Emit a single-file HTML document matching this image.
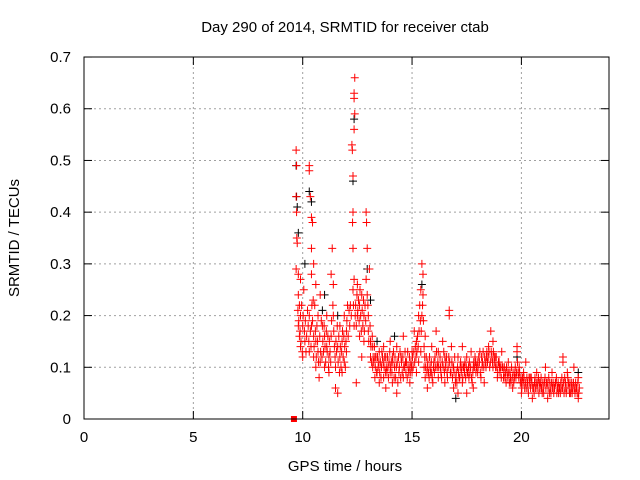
<!DOCTYPE html>
<html><head><meta charset="utf-8"><style>
body{margin:0;background:#fff}
svg{display:block;font-family:"Liberation Sans",sans-serif}
</style></head><body>
<svg id="chart" width="640" height="480" viewBox="0 0 640 480">
<rect width="640" height="480" fill="#fff"/>
<text x="345" y="32" text-anchor="middle" font-size="15">Day 290 of 2014, SRMTID for receiver ctab</text>
<text x="345" y="471" text-anchor="middle" font-size="15">GPS time / hours</text>
<text transform="translate(19,238) rotate(-90)" text-anchor="middle" font-size="15">SRMTID / TECUs</text>
<g id="grid"></g>
<g id="ticks"></g>
<g id="black"></g>
<g id="red"></g>
<rect x="84" y="57" width="525" height="362" fill="none" stroke="#000" stroke-width="1"/>
</svg>
<script>
const xTicks=[0,5,10,15,20];
const yTicks=[0,0.1,0.2,0.3,0.4,0.5,0.6,0.7];
const yTickLabels=["0","0.1","0.2","0.3","0.4","0.5","0.6","0.7"];
const squarePoints=[[9.6,0]];
const blackPoints=[[9.7,0.49],[9.72,0.43],[9.75,0.41],[9.8,0.36],[10.3,0.44],[10.4,0.42],[12.3,0.46],[12.35,0.58],[12.95,0.29],[13.1,0.23],[10.9,0.21],[11.6,0.2],[15.45,0.26],[19.8,0.12],[22.6,0.09],[14.2,0.16],[17.0,0.04],[10.1,0.3],[11.0,0.24],[13.4,0.15]];
const redPoints=[[9.7,0.52],[9.72,0.49],[9.7,0.43],[9.72,0.40],[9.73,0.35],[9.75,0.34],[9.7,0.29],[9.8,0.28],[9.8,0.24],[9.85,0.22],[9.9,0.2],[9.8,0.18],[9.85,0.16],[9.9,0.14],[9.95,0.22],[10.0,0.18],[10.0,0.12],[9.9,0.27],[10.1,0.15],[10.05,0.25],
[10.3,0.49],[10.3,0.48],[10.35,0.43],[10.4,0.39],[10.45,0.38],[10.4,0.33],[10.5,0.3],[10.4,0.28],[10.6,0.26],[10.55,0.22],[10.3,0.2],[10.4,0.18],[10.5,0.16],[10.6,0.15],[10.3,0.13],[10.5,0.12],[10.6,0.1],[10.7,0.13],[10.75,0.08],[10.8,0.11],[10.7,0.2],[10.8,0.24],[10.9,0.18],[11.0,0.16],[11.0,0.1],[11.1,0.14],[11.1,0.2],[11.2,0.12],[11.2,0.09],[11.3,0.16],[11.3,0.28],[11.35,0.33],[11.4,0.26],[11.4,0.2],[11.45,0.14],[11.5,0.1],[11.5,0.06],[11.6,0.14],[11.6,0.05],[11.7,0.12],[11.7,0.18],[11.8,0.09],[11.8,0.15],[11.9,0.11],[11.9,0.2],[12.0,0.13],[12.0,0.17],[12.05,0.22],
[12.25,0.53],[12.27,0.52],[12.3,0.47],[12.3,0.4],[12.28,0.38],[12.3,0.33],[12.35,0.56],[12.38,0.59],[12.35,0.62],[12.35,0.63],[12.38,0.66],[12.35,0.27],[12.3,0.25],[12.32,0.22],[12.4,0.2],[12.35,0.18],[12.45,0.07],[12.5,0.26],[12.5,0.2],[12.6,0.22],[12.6,0.16],[12.7,0.24],[12.7,0.12],[12.8,0.15],[12.8,0.2],[12.9,0.4],[12.92,0.38],[12.95,0.33],[12.9,0.27],[12.95,0.24],[13.0,0.2],[13.0,0.17],[13.05,0.29],[13.1,0.15],[13.1,0.12],[13.2,0.1],[13.2,0.14],[13.3,0.08],[13.3,0.12],[13.4,0.09],[13.5,0.07],[13.5,0.13],[13.6,0.1],[13.7,0.14],[13.7,0.08],[13.8,0.12],[13.8,0.06],[13.9,0.1],[14.0,0.15],[14.0,0.09],[14.1,0.12],[14.1,0.07],[14.2,0.1],[14.3,0.14],[14.3,0.05],[14.4,0.09],[14.5,0.12],[14.6,0.16],[14.6,0.08],[14.7,0.11],[14.8,0.13],[14.9,0.07],[14.9,0.1],[15.0,0.13],[15.0,0.09],
[15.1,0.17],[15.2,0.15],[15.3,0.2],[15.35,0.22],[15.4,0.25],[15.45,0.3],[15.5,0.28],[15.5,0.24],[15.45,0.2],[15.4,0.13],[15.3,0.11],[15.2,0.09],[15.6,0.16],[15.6,0.08],[15.7,0.1],[15.7,0.06],[15.8,0.12],[15.9,0.14],[15.9,0.09],[16.0,0.11],[16.1,0.17],[16.2,0.13],[16.2,0.08],[16.3,0.1],[16.4,0.15],[16.5,0.12],[16.5,0.07],[16.6,0.09],[16.7,0.21],[16.7,0.2],[16.8,0.14],[16.9,0.06],[16.9,0.1],[17.0,0.08],[17.1,0.12],[17.1,0.05],[17.2,0.1],[17.3,0.14],[17.3,0.07],[17.4,0.09],[17.5,0.12],[17.5,0.05],[17.6,0.08],[17.7,0.13],[17.8,0.1],[17.8,0.06],[17.9,0.11],[18.0,0.09],[18.1,0.13],[18.2,0.1],[18.3,0.07],[18.4,0.12],[18.5,0.14],[18.6,0.17],[18.7,0.15],[18.7,0.1],[18.8,0.12],[18.9,0.08],[19.0,0.1],[19.1,0.13],[19.2,0.09],[19.3,0.07],[19.4,0.11],[19.5,0.08],[19.6,0.06],[19.7,0.09],[19.8,0.14],[19.8,0.13],[19.9,0.1],[20.0,0.07],[20.0,0.05],[20.1,0.09],[20.2,0.11],[20.3,0.06],[20.4,0.08],[20.5,0.04],[20.6,0.07],[20.7,0.09],[20.8,0.05],[20.9,0.08],[21.0,0.06],[21.1,0.1],[21.2,0.04],[21.3,0.07],[21.4,0.09],[21.5,0.06],[21.6,0.08],[21.7,0.05],[21.8,0.07],[21.9,0.11],[21.9,0.12],[22.0,0.06],[22.1,0.09],[22.2,0.05],[22.3,0.07],[22.4,0.1],[22.5,0.06],[22.6,0.04],[22.6,0.08],
[13.25,0.11],[13.45,0.1],[13.65,0.12],[13.85,0.09],[14.05,0.11],[14.25,0.08],[14.45,0.13],[14.65,0.1],[14.85,0.09],[15.55,0.1],[15.75,0.09],[15.95,0.07],[16.15,0.1],[16.35,0.08],[16.55,0.11],[16.75,0.09],[16.95,0.12],[17.15,0.08],[17.35,0.1],[17.55,0.09],[17.75,0.07],[17.95,0.1],[18.15,0.08],[18.35,0.11],[18.55,0.1],[18.75,0.12],[18.95,0.11],[19.15,0.1],[19.35,0.09],[19.55,0.1],[19.75,0.08],[19.95,0.07],[20.15,0.06],[20.35,0.08],[20.55,0.06],[20.75,0.07],[20.95,0.05],[21.15,0.07],[21.35,0.05],[21.55,0.07],[21.75,0.06],[21.95,0.05],[22.15,0.07],[22.35,0.06],[22.55,0.05],
[9.78,0.21],[9.82,0.19],[9.88,0.17],[9.92,0.15],[9.98,0.13],[10.02,0.2],[10.08,0.17],[10.12,0.19],[10.15,0.13],[10.18,0.16],[10.22,0.21],[10.25,0.18],[10.28,0.15],[10.35,0.17],[10.38,0.14],[10.42,0.22],[10.45,0.19],[10.48,0.23],[10.52,0.14],[10.58,0.17],[10.62,0.12],[10.65,0.18],[10.68,0.15],[10.72,0.11],[10.78,0.16],[10.82,0.13],[10.85,0.19],[10.88,0.12],[10.92,0.15],[10.95,0.13],[10.98,0.18],[11.02,0.14],[11.05,0.11],[11.08,0.17],[11.12,0.13],[11.15,0.16],[11.18,0.1],[11.22,0.15],[11.25,0.13],[11.28,0.11],[11.32,0.19],[11.38,0.22],[11.42,0.17],[11.48,0.12],[11.52,0.15],[11.55,0.13],[11.58,0.18],[11.62,0.11],[11.65,0.16],[11.68,0.09],[11.72,0.14],[11.75,0.1],[11.78,0.13],[11.82,0.17],[11.85,0.12],[11.88,0.16],[11.92,0.14],[11.95,0.1],[11.98,0.15],[12.02,0.19],[12.08,0.16],[12.12,0.21],[12.15,0.18],[12.18,0.22],[12.22,0.2],[12.42,0.22],[12.45,0.18],[12.48,0.24],[12.52,0.21],[12.55,0.23],[12.58,0.19],[12.62,0.25],[12.65,0.2],[12.68,0.17],[12.72,0.21],[12.75,0.18],[12.78,0.23],[12.82,0.17],[12.85,0.22],[12.88,0.19],[12.98,0.22],[13.02,0.15],[13.08,0.18],[13.12,0.14],[13.15,0.11],[13.18,0.16],[13.22,0.12],[13.28,0.14],[13.32,0.1],[13.35,0.12],[13.38,0.09],[13.42,0.12],[13.48,0.11],[13.52,0.09],[13.55,0.11],[13.58,0.08],[13.62,0.13],[13.68,0.11],[13.72,0.1],[13.75,0.12],[13.78,0.09],[13.82,0.1],[13.88,0.12],[13.92,0.08],[13.95,0.11],[13.98,0.13],[14.02,0.1],[14.08,0.09],[14.12,0.11],[14.15,0.13],[14.18,0.08],[14.22,0.12],[14.28,0.1],[14.32,0.11],[14.35,0.07],[14.38,0.12],[14.42,0.1],[14.48,0.08],[14.52,0.11],[14.55,0.09],[14.58,0.12],[14.62,0.1],[14.68,0.13],[14.72,0.09],[14.75,0.11],[14.78,0.08],[14.82,0.1],[14.88,0.12],[14.92,0.09],[14.95,0.11],[14.98,0.1],[15.02,0.12],[15.05,0.1],[15.08,0.13],[15.12,0.11],[15.15,0.14],[15.18,0.12],[15.22,0.13],[15.25,0.16],[15.28,0.14],[15.32,0.17],[15.38,0.19],[15.42,0.17],[15.48,0.22],[15.52,0.19],[15.55,0.14],[15.58,0.12],[15.62,0.1],[15.65,0.12],[15.68,0.09],[15.72,0.11],[15.78,0.08],[15.82,0.1],[15.85,0.09],[15.88,0.11],[15.92,0.08],[15.98,0.1],[16.02,0.09],[16.05,0.12],[16.08,0.1],[16.12,0.13],[16.18,0.11],[16.22,0.1],[16.28,0.12],[16.32,0.09],[16.38,0.11],[16.42,0.1],[16.45,0.13],[16.48,0.09],[16.52,0.1],[16.58,0.12],[16.62,0.08],[16.65,0.1],[16.68,0.12],[16.72,0.11],[16.78,0.09],[16.82,0.11],[16.85,0.08],[16.88,0.1],[16.92,0.09],[16.98,0.07],[17.02,0.09],[17.05,0.07],[17.08,0.1],[17.12,0.09],[17.18,0.08],[17.22,0.11],[17.25,0.09],[17.28,0.1],[17.32,0.08],[17.38,0.1],[17.42,0.11],[17.45,0.08],[17.48,0.1],[17.52,0.09],[17.58,0.1],[17.62,0.11],[17.65,0.09],[17.68,0.1],[17.72,0.08],[17.78,0.09],[17.82,0.11],[17.85,0.1],[17.88,0.12],[17.92,0.09],[17.98,0.11],[18.02,0.1],[18.05,0.12],[18.08,0.11],[18.12,0.09],[18.18,0.12],[18.22,0.11],[18.25,0.13],[18.28,0.1],[18.32,0.12],[18.38,0.1],[18.42,0.13],[18.45,0.11],[18.48,0.12],[18.52,0.13],[18.58,0.11],[18.62,0.13],[18.65,0.12],[18.68,0.11],[18.72,0.13],[18.78,0.11],[18.82,0.1],[18.85,0.12],[18.88,0.1],[18.92,0.09],[18.98,0.11],[19.02,0.09],[19.05,0.1],[19.08,0.08],[19.12,0.1],[19.18,0.08],[19.22,0.1],[19.25,0.08],[19.28,0.09],[19.32,0.1],[19.38,0.08],[19.42,0.09],[19.45,0.07],[19.48,0.09],[19.52,0.07],[19.58,0.08],[19.62,0.09],[19.65,0.07],[19.68,0.08],[19.72,0.1],[19.78,0.09],[19.82,0.11],[19.85,0.09],[19.88,0.08],[19.92,0.09],[19.98,0.08],[20.02,0.06],[20.05,0.08],[20.08,0.07],[20.12,0.08],[20.18,0.07],[20.22,0.06],[20.25,0.08],[20.28,0.07],[20.32,0.05],[20.38,0.07],[20.42,0.06],[20.45,0.08],[20.48,0.07],[20.52,0.06],[20.58,0.05],[20.62,0.08],[20.65,0.06],[20.68,0.07],[20.72,0.06],[20.78,0.08],[20.82,0.07],[20.85,0.06],[20.88,0.07],[20.92,0.06],[20.98,0.07],[21.02,0.05],[21.05,0.07],[21.08,0.08],[21.12,0.06],[21.18,0.07],[21.22,0.06],[21.25,0.08],[21.28,0.05],[21.32,0.06],[21.38,0.07],[21.42,0.06],[21.45,0.07],[21.48,0.05],[21.52,0.06],[21.58,0.07],[21.62,0.05],[21.65,0.06],[21.68,0.07],[21.72,0.06],[21.78,0.05],[21.82,0.06],[21.85,0.08],[21.88,0.06],[21.92,0.07],[21.98,0.08],[22.02,0.07],[22.05,0.05],[22.08,0.06],[22.12,0.08],[22.18,0.06],[22.22,0.07],[22.25,0.05],[22.28,0.06],[22.32,0.05],[22.38,0.07],[22.42,0.06],[22.45,0.05],[22.48,0.07],[22.52,0.06],[22.58,0.07],[22.62,0.05],[22.65,0.06]];

const X0=84,PXH=21.87,Y0=419,PXY=517.1;
function sx(v){return X0+v*PXH;}
function sy(v){return Y0-v*PXY;}
const NS="http://www.w3.org/2000/svg";
function mk(tag,attrs,parent){const e=document.createElementNS(NS,tag);for(const k in attrs)e.setAttribute(k,attrs[k]);parent.appendChild(e);return e;}
const grid=document.getElementById('grid'),ticks=document.getElementById('ticks');
xTicks.forEach((t,i)=>{
  const x=sx(t);
  if(t>0){const g=mk('line',{x1:x,y1:57,x2:x,y2:419,stroke:'#a0a0a0','stroke-dasharray':'2,3'},grid);
  
  }
  mk('line',{x1:x,y1:419,x2:x,y2:411,stroke:'#000'},ticks);
  mk('line',{x1:x,y1:57,x2:x,y2:65,stroke:'#000'},ticks);
  const l=mk('text',{x:x,y:442,'text-anchor':'middle','font-size':'15'},ticks);
  l.textContent=String(t);
  
  
});
yTicks.forEach((t,i)=>{
  const y=sy(t);
  if(t>0&&t<0.7){const g=mk('line',{x1:84,y1:y,x2:609,y2:y,stroke:'#a0a0a0','stroke-dasharray':'2,3'},grid);
  
  }
  mk('line',{x1:84,y1:y,x2:92,y2:y,stroke:'#000'},ticks);
  mk('line',{x1:609,y1:y,x2:601,y2:y,stroke:'#000'},ticks);
  const l=mk('text',{x:71,y:y+5,'text-anchor':'end','font-size':'15'},ticks);
  l.textContent=yTickLabels[i];
  
  
});
function plus(p,col,parent){
  const x=sx(p[0]),y=sy(p[1]);
  const e=mk('path',{d:`M${x-4},${y}H${x+4}M${x},${y-4}V${y+4}`,stroke:col,'stroke-width':'1',fill:'none'},parent);
  
  
}
const bg=document.getElementById('black'),rg=document.getElementById('red');
blackPoints.forEach(p=>plus(p,'#000',bg));
redPoints.forEach(p=>plus(p,'#ff0000',rg));
squarePoints.forEach(p=>{
  const e=mk('rect',{x:sx(p[0])-3,y:sy(p[1])-3,width:6,height:6,fill:'#ff0000'},rg);
  
  
});
</script>
</body></html>
